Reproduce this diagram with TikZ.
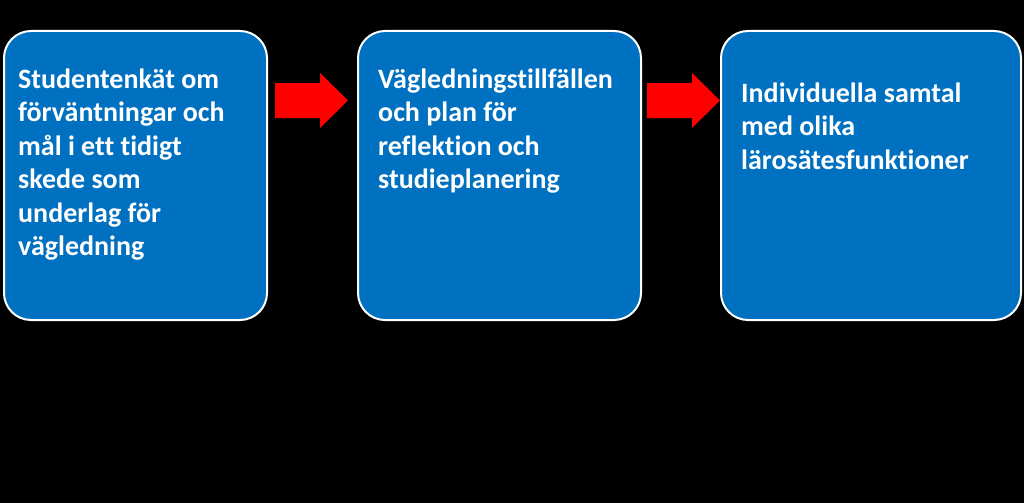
\documentclass[tikz,border=0pt]{standalone}
\usepackage{fontspec}
\setmainfont{Carlito}[Ligatures=NoCommon]
\definecolor{boxblue}{HTML}{0070C0}
\tikzset{
  stepbox/.style={draw=white, line width=2pt, fill=boxblue, rounded corners=27pt,
    rectangle, inner sep=0pt},
  boxtext/.style={text=white, font=\fontsize{28}{33.5}\selectfont\bfseries,
    align=left, inner sep=0pt, anchor=base west}
}
\begin{document}
\begin{tikzpicture}[x=1pt,y=-1pt]
%background
\fill[black] (0,0) rectangle (1024,503);
\useasboundingbox (0,0) rectangle (1024,503);

%draw boxes
\node[stepbox, minimum width=263pt, minimum height=289pt] (box1) at (135.5,175.5) {};
\node[stepbox, minimum width=283pt, minimum height=289pt] (box2) at (499.5,175.5) {};
\node[stepbox, minimum width=300pt, minimum height=289pt] (box3) at (871,175.5) {};

%draw arrows
\foreach \x in {275,647}
\fill[red] (\x,83) -- (\x+45,83) -- (\x+45,73) -- (\x+73,100.5) -- (\x+45,128)
  -- (\x+45,118) -- (\x,118) -- cycle;

%texts (anchored at the last line)
\node[boxtext] (text1) at (18,255.5) {Studentenkät om\\förväntningar och\\mål i ett tidigt\\skede som\\underlag för\\vägledning};
\node[boxtext] (text2) at (378,188.5) {Vägledningstillfällen\\och plan för\\reflektion och\\studieplanering};
\node[boxtext] (text3) at (741,169) {Individuella samtal\\med olika\\lärosätesfunktioner};

\end{tikzpicture}
\end{document}
